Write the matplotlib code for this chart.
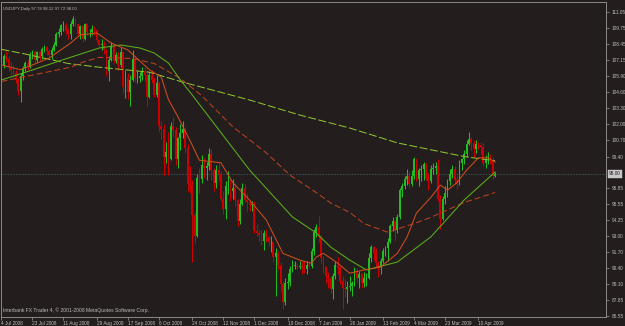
import matplotlib
matplotlib.use("Agg")
import matplotlib.pyplot as plt
import numpy as np
import pandas as pd

# ---------------- data (USDJPY daily) ----------------
first_date = "2008-07-04"
first_open = 106.3

closes = [106.7, 107.5, 107.3, 106.6, 106.4, 106.1, 105.6, 104.7, 105.9, 106.5,
          106.9, 106.6, 107.6, 107.8, 107.2, 107.8, 107.5, 108.1, 108.2, 107.9,
          107.6, 108.0, 108.4, 109.3, 109.4, 110.0, 110.0, 109.5, 109.3, 110.1,
          110.5, 110.1, 109.3, 109.9, 108.9, 110.1, 109.4, 109.4, 109.7, 109.6,
          108.8, 108.4, 108.5, 108.0, 106.3, 107.2, 108.3, 107.1, 107.6, 106.8,
          107.8, 105.0, 105.7, 104.6, 105.6, 107.3, 105.7, 105.7, 105.9, 106.3,
          106.0, 104.2, 106.0, 105.6, 104.4, 105.3, 101.9, 101.6, 99.4, 99.8,
          99.2, 101.9, 101.5, 99.2, 100.9, 101.3, 101.6, 100.1, 97.2, 97.1,
          94.7, 93.0, 97.7, 97.6, 98.7, 98.5, 98.6, 99.6, 98.3, 97.3,
          98.3, 98.0, 96.0, 95.2, 97.0, 97.0, 96.6, 96.9, 95.9, 94.2,
          95.6, 96.9, 95.9, 95.7, 95.5, 95.5, 93.4, 93.2, 93.1, 92.6,
          93.2, 92.9, 92.5, 92.5, 91.3, 91.6, 90.7, 89.1, 87.7, 89.2,
          89.3, 90.3, 90.6, 90.6, 90.5, 90.6, 90.4, 90.3, 90.7, 90.6,
          91.8, 93.3, 93.7, 92.9, 91.2, 90.5, 89.8, 89.6, 88.7, 89.8,
          90.7, 90.4, 89.4, 88.8, 88.7, 88.9, 89.0, 89.2, 90.2, 89.6,
          89.9, 89.2, 89.6, 89.6, 91.2, 92.1, 91.6, 90.8, 90.5, 91.0,
          91.8, 92.0, 92.5, 93.8, 94.2, 93.5, 94.5, 96.7, 97.0, 97.6,
          97.8, 97.2, 97.8, 99.2, 97.6, 98.3, 98.4, 98.8, 97.7, 97.4,
          98.4, 98.5, 98.6, 96.0, 94.4, 96.0, 96.5, 97.4, 98.0, 98.4,
          97.5, 97.2, 98.9, 99.2, 99.6, 100.4, 100.8, 100.5, 100.0, 100.4,
          100.3, 100.2, 98.9, 99.2, 99.2, 99.1, 97.8, 98.00]

highs = [107.0, 107.7, 107.9, 107.5, 107.0, 106.8, 106.4, 105.7, 106.1, 106.7,
         107.1, 107.2, 107.8, 108.0, 108.0, 107.9, 107.9, 108.2, 108.4, 108.3,
         108.1, 108.2, 108.6, 109.4, 109.8, 110.1, 110.3, 110.2, 109.8, 110.3,
         110.7, 110.6, 110.1, 110.0, 110.0, 110.2, 110.2, 109.7, 110.0, 109.9,
         109.7, 108.9, 108.9, 108.7, 108.1, 107.5, 108.6, 108.4, 107.8, 107.8,
         108.2, 107.6, 106.4, 106.1, 106.0, 108.0, 107.4, 106.3, 106.2, 106.6,
         106.6, 106.3, 106.2, 106.4, 105.8, 106.0, 105.5, 102.3, 102.0, 100.6,
         101.4, 102.2, 102.6, 101.8, 101.0, 102.0, 102.3, 101.8, 100.4, 98.6,
         97.5, 94.9, 98.0, 98.5, 99.5, 99.3, 99.0, 100.1, 100.0, 98.5,
         98.7, 99.0, 98.2, 96.6, 97.4, 98.2, 97.5, 97.6, 97.3, 96.0,
         96.0, 97.3, 97.2, 96.5, 95.9, 95.8, 95.8, 94.0, 93.6, 93.5,
         93.5, 93.6, 93.0, 93.0, 92.5, 92.0, 91.8, 90.9, 89.4, 89.6,
         90.0, 90.6, 91.1, 91.0, 90.8, 91.0, 91.0, 91.0, 91.0, 90.9,
         92.0, 93.6, 94.0, 94.6, 93.1, 91.4, 90.6, 90.1, 89.8, 90.0,
         91.0, 91.3, 90.6, 89.8, 89.5, 89.4, 89.8, 89.4, 90.5, 90.4,
         90.2, 90.0, 90.1, 90.0, 91.6, 92.3, 92.2, 92.0, 91.0, 91.2,
         92.0, 92.2, 92.8, 94.0, 94.5, 94.2, 94.8, 96.9, 97.3, 97.8,
         98.4, 98.2, 98.3, 99.4, 99.2, 98.5, 98.7, 99.0, 98.9, 98.1,
         98.7, 98.9, 99.0, 99.2, 96.3, 96.2, 97.0, 97.6, 98.4, 98.7,
         98.6, 97.8, 99.1, 99.3, 99.9, 100.7, 101.4, 101.0, 100.7, 100.7,
         100.6, 100.6, 100.5, 99.5, 99.8, 99.6, 99.4, 98.12]

lows = [106.2, 106.5, 107.0, 106.3, 106.0, 105.8, 105.3, 104.4, 103.8, 105.6,
        106.3, 106.4, 106.5, 107.3, 106.9, 107.0, 107.2, 107.3, 107.8, 107.6,
        107.3, 107.3, 107.9, 108.3, 109.0, 109.2, 109.5, 109.3, 108.9, 108.9,
        109.9, 109.9, 109.1, 108.9, 108.6, 108.8, 109.2, 109.0, 109.2, 109.2,
        108.6, 108.2, 108.0, 107.7, 105.9, 105.5, 107.1, 106.9, 106.9, 106.4,
        106.6, 104.5, 104.1, 104.0, 103.5, 105.5, 105.4, 105.3, 105.4, 105.6,
        105.5, 103.5, 104.1, 105.3, 104.2, 104.2, 101.4, 100.8, 97.9, 98.9,
        97.9, 99.1, 101.0, 98.7, 98.5, 99.9, 100.9, 99.7, 96.6, 96.5,
        90.9, 92.4, 92.9, 96.5, 97.3, 97.7, 97.5, 98.3, 97.5, 96.6,
        96.9, 97.4, 95.8, 94.8, 94.4, 96.4, 95.8, 96.0, 95.4, 93.8,
        94.0, 95.5, 95.7, 95.0, 95.0, 95.0, 93.2, 93.0, 92.6, 92.3,
        91.9, 92.5, 92.2, 91.7, 90.9, 88.2, 90.3, 88.6, 87.1, 87.4,
        88.7, 89.0, 90.1, 90.3, 90.3, 90.3, 89.9, 90.0, 89.9, 90.5,
        90.4, 91.5, 92.9, 92.5, 90.8, 90.0, 89.2, 88.8, 88.4, 87.9,
        89.5, 89.9, 89.1, 87.1, 88.1, 87.6, 88.6, 88.2, 89.0, 89.3,
        88.8, 88.8, 88.9, 89.0, 89.5, 90.9, 91.1, 90.5, 89.7, 89.9,
        90.8, 91.4, 91.0, 92.4, 93.4, 92.6, 93.2, 94.4, 96.1, 96.8,
        97.1, 96.9, 97.0, 97.6, 97.4, 97.0, 97.4, 97.5, 97.5, 96.7,
        97.3, 98.0, 98.0, 95.8, 93.6, 94.3, 95.6, 96.1, 97.1, 97.7,
        97.2, 96.8, 97.1, 98.3, 98.8, 99.4, 100.3, 99.9, 99.4, 99.7,
        100.0, 99.6, 98.6, 98.5, 98.8, 98.8, 97.6, 97.72]

# moving averages (bar number, value)
ma_fast_bar = [0, 8, 13, 20, 29, 33, 40, 46, 53, 62, 67, 70, 74, 79, 83, 92, 97, 104,
               111, 118, 125, 130, 132, 135, 141, 146, 152, 159, 166, 170, 174, 180,
               184, 187, 191, 195, 200, 204, 207]
ma_fast_val = [106.78, 106.4, 106.78, 107.34, 108.55, 109.2, 109.36, 108.55, 107.99,
               106.4, 105.8, 104.0, 102.6, 100.7, 99.1, 98.9, 97.3, 95.9, 94.3, 91.6,
               91.06, 90.8, 91.3, 91.6, 90.8, 90.0, 90.26, 90.5, 91.6, 92.9, 94.85,
               96.1, 97.1, 96.7, 97.3, 98.3, 99.3, 99.3, 98.96]

ma_mid_bar = [0, 13, 28, 41, 50, 58, 64, 70, 75, 80, 83, 104, 122, 132, 138, 146,
              153, 166, 180, 194, 207]
ma_mid_val = [105.57, 106.38, 107.34, 108.15, 108.39, 108.15, 107.75, 106.94, 105.57,
              104.36, 103.6, 98.32, 94.53, 93.24, 92.11, 91.06, 90.26, 90.9, 92.92,
              95.9, 98.16]

ma_slow_bar = [0, 29, 34, 41, 55, 64, 75, 84, 97, 111, 121, 132, 138, 146, 152, 162,
               173, 180, 194, 207]
ma_slow_val = [105.45, 106.6, 107.0, 107.4, 107.3, 106.9, 105.7, 104.3, 101.8, 99.7,
               97.9, 96.5, 95.66, 94.9, 94.0, 93.3, 94.0, 94.5, 95.7, 96.5]

ma_long_bar = [0, 10, 28, 41, 62, 76, 104, 125, 146, 166, 194, 207]
ma_long_val = [108.04, 107.66, 106.9, 106.6, 106.2, 105.4, 103.96, 102.75, 101.7,
               100.5, 99.4, 99.05]

date_labels = ["4 Jul 2008", "23 Jul 2008", "11 Aug 2008", "29 Aug 2008",
               "17 Sep 2008", "6 Oct 2008", "24 Oct 2008", "12 Nov 2008",
               "1 Dec 2008", "19 Dec 2008", "7 Jan 2009", "26 Jan 2009",
               "13 Feb 2009", "4 Mar 2009", "23 Mar 2009", "10 Apr 2009"]

# the 98.15 level is hidden behind the last-price box in the reference
price_labels = ["111.05", "109.75", "108.45", "107.15", "105.90", "104.60", "103.30",
                "102.00", "100.70", "99.40", "96.85", "95.55", "94.25",
                "93.00", "91.70", "90.40", "89.10", "87.85", "86.55"]

title_text = "USDJPY,Daily 97.78 98.12 97.72 98.00"
copyright_text = "Interbank FX Trader 4, \u00a9 2001-2008 MetaQuotes Software Corp."
last_price = 98.00

# ---------------- figure ----------------
W, H = 625, 326
BG = "#241d1d"
FRAME = "#8a8a8a"
TXT = "#bdbdbd"
BULL = "#22bb22"
BEAR = "#cc0000"
FONT = "Liberation Sans"

fig = plt.figure(figsize=(W / 100, H / 100), dpi=100, facecolor=BG)
L, R, T, B = 1, 606, 2, 317
ax = fig.add_axes([L / W, (H - B) / H, (R - L) / W, (B - T) / H], facecolor=BG)

n = len(closes)
opens = [first_open] + closes[:-1]
dates = pd.bdate_range(first_date, periods=n)
xs = np.arange(n)
o = np.array(opens); c = np.array(closes); h = np.array(highs); l = np.array(lows)
up = c >= o
cols = np.where(up, BULL, BEAR)
top = np.maximum.reduce([h, o, c]); bot = np.minimum.reduce([l, o, c])
ax.vlines(xs, bot, top, colors=cols, lw=0.75, zorder=3)
body_lo = np.minimum(o, c)
body_h = np.maximum(np.abs(c - o), 0.04)
ax.bar(xs, body_h, bottom=body_lo, width=0.75, color=cols, lw=0, zorder=3)

# moving averages
px = 0.72
ax.plot(ma_long_bar, ma_long_val, color="#8fc832", lw=px, ls=(0, (8, 2.5)), zorder=4)
ax.plot(ma_slow_bar, ma_slow_val, color="#c0441e", lw=px, ls=(0, (6, 3)), zorder=4)
ax.plot(ma_mid_bar, ma_mid_val, color="#5cb51c", lw=px, zorder=4)
ax.plot(ma_fast_bar, ma_fast_val, color="#d2501e", lw=px, zorder=4)

# bid line
ax.axhline(last_price, color="#3a5858", lw=0.6, ls=(0, (2, 1.5)), zorder=2)

# scales
px_per_bar = 2.385
x0_pix = 1.0
ax.set_xlim((L - x0_pix) / px_per_bar - 0.2, (R - x0_pix) / px_per_bar - 0.2)
ppu = 12.408
ref_p, ref_y = 111.05, 12
ax.set_ylim(ref_p - (B - ref_y) / ppu, ref_p + (ref_y - T) / ppu)

for s in ax.spines.values():
    s.set_color(FRAME)
    s.set_linewidth(0.7)

# price axis
ax.yaxis.tick_right()
ax.set_yticks([float(v) for v in price_labels])
ax.set_yticklabels(price_labels)
ax.tick_params(axis="y", colors=FRAME, labelcolor=TXT, length=2.5, width=0.6,
               pad=1.5, labelsize=3.4)

# date axis
date_idx = [int(np.where(dates == pd.to_datetime(d, format="%d %b %Y"))[0][0]) for d in date_labels]
ax.set_xticks(date_idx)
ax.set_xticklabels(date_labels, ha="left")
ax.tick_params(axis="x", colors=FRAME, labelcolor=TXT, length=2.5, width=0.6,
               pad=0.5, labelsize=3.4)
for lab in ax.get_xticklabels() + ax.get_yticklabels():
    lab.set_fontfamily(FONT)

# texts
ax.text(0.004, 0.985, title_text, transform=ax.transAxes, color=TXT, fontsize=3.1,
        family=FONT, va="top", ha="left")
ax.text(0.003, 0.012, copyright_text, transform=ax.transAxes, color=TXT, fontsize=3.6,
        family=FONT, va="bottom", ha="left")

# last price box
ax.annotate(f"{last_price:.2f}", xy=(1.0, last_price), xycoords=("axes fraction", "data"),
            xytext=(2.0, 0), textcoords="offset points", va="center", ha="left",
            fontsize=3.4, family=FONT, color="#202020",
            bbox=dict(boxstyle="square,pad=0.25", fc="#c8c8c8", ec="#c8c8c8", lw=0.3),
            annotation_clip=False, zorder=10)

fig.savefig("out.png", dpi=100, facecolor=BG)
